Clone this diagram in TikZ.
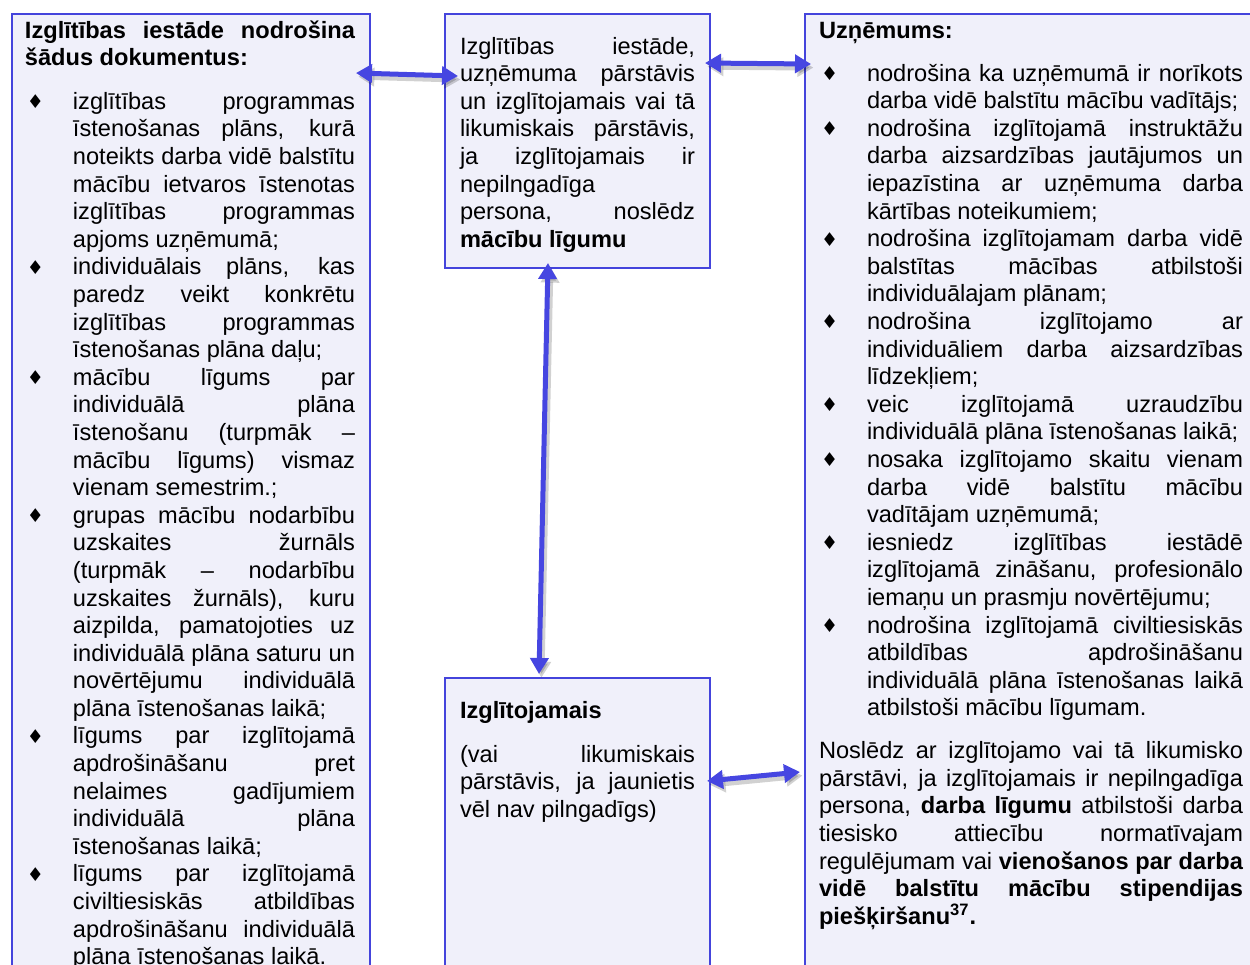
\documentclass[tikz,border=0pt]{standalone}
\usepackage{fontspec}
\setmainfont{Liberation Sans}
\newfontfamily\bulfont{DejaVu Sans}
\usetikzlibrary{arrows.meta,calc}
\definecolor{boxblue}{RGB}{68,68,220}
\definecolor{boxfill}{RGB}{240,240,250}
\definecolor{arrblue}{RGB}{70,70,225}
\newcommand\bitem[1]{\par\noindent\hangindent=24pt\hangafter=1\makebox[24pt][l]{\hspace{1pt}\raisebox{0.3pt}{\bulfont\fontsize{9.5pt}{10pt}\selectfont\char"2666}}#1}
\newcommand\txtsetup{\fontsize{11.8pt}{13.8pt}\selectfont\parindent=0pt\parskip=0pt\tolerance=10000\hbadness=10000\hyphenpenalty=10000}
\begin{document}
\begin{tikzpicture}[x=0.5pt,y=-0.5pt,
  panel/.style={draw=boxblue, fill=boxfill, line width=1pt, inner sep=0pt, outer sep=0pt, anchor=north west, rectangle},
  txt/.style={anchor=base west, inner sep=0pt, outer sep=0pt},
  arr/.style={line width=2.5pt, draw=arrblue, {Triangle[length=8pt,width=9pt]}-{Triangle[length=8pt,width=9pt]},
    preaction={draw=black, opacity=0.18, line width=3pt, transform canvas={shift={(1.2pt,-1.8pt)}}}}]
\useasboundingbox (0,0) rectangle (1250,965);
\clip (0,0) rectangle (1250,965);
\node[panel, minimum width=179pt, minimum height=493pt] (lbox) at (12,14) {};
\node[panel, minimum width=132.5pt, minimum height=127pt] (mtop) at (445,14) {};
\node[panel, minimum width=132.5pt, minimum height=161pt] (mbot) at (445,678) {};
\node[panel, minimum width=240pt, minimum height=493pt] (rbox) at (805,14) {};

\node[txt] (ltxt) at (25,38) {\parbox[t]{165pt}{\txtsetup
\textbf{Izglītības iestāde nodrošina\linebreak šādus dokumentus:}\par\vspace{8pt}
\bitem{izglītības programmas\linebreak īstenošanas plāns, kurā\linebreak noteikts darba vidē balstītu\linebreak mācību ietvaros īstenotas\linebreak izglītības programmas\linebreak apjoms uzņēmumā;}
\bitem{individuālais plāns, kas\linebreak paredz veikt konkrētu\linebreak izglītības programmas\linebreak īstenošanas plāna daļu;}
\bitem{mācību līgums par\linebreak individuālā plāna\linebreak īstenošanu (turpmāk –\linebreak mācību līgums) vismaz\linebreak vienam semestrim.;}
\bitem{grupas mācību nodarbību\linebreak uzskaites žurnāls\linebreak (turpmāk – nodarbību\linebreak uzskaites žurnāls), kuru\linebreak aizpilda, pamatojoties uz\linebreak individuālā plāna saturu un\linebreak novērtējumu individuālā\linebreak plāna īstenošanas laikā;}
\bitem{līgums par izglītojamā\linebreak apdrošināšanu pret\linebreak nelaimes gadījumiem\linebreak individuālā plāna\linebreak īstenošanas laikā;}
\bitem{līgums par izglītojamā\linebreak civiltiesiskās atbildības\linebreak apdrošināšanu individuālā\linebreak plāna īstenošanas laikā.}\par}};

\node[txt] (mttxt) at (460,54) {\parbox[t]{117.5pt}{\txtsetup
Izglītības iestāde,\linebreak uzņēmuma pārstāvis\linebreak un izglītojamais vai tā\linebreak likumiskais pārstāvis,\linebreak ja izglītojamais ir\linebreak nepilngadīga\newline persona, noslēdz\linebreak \textbf{mācību līgumu}\par}};

\node[txt] (mbtxt) at (460,718) {\parbox[t]{117.5pt}{\txtsetup
\textbf{Izglītojamais}\par\vspace{8.2pt}
(vai likumiskais\linebreak pārstāvis, ja jaunietis\linebreak vēl nav pilngadīgs)\par}};

\node[txt] (rtxt) at (819,38) {\parbox[t]{212pt}{\txtsetup
\textbf{Uzņēmums:}\par\vspace{7.7pt}
\bitem{nodrošina ka uzņēmumā ir norīkots\linebreak darba vidē balstītu mācību vadītājs;}
\bitem{nodrošina izglītojamā instruktāžu\linebreak darba aizsardzības jautājumos un\linebreak iepazīstina ar uzņēmuma darba\linebreak kārtības noteikumiem;}
\bitem{nodrošina izglītojamam darba vidē\linebreak balstītas mācības atbilstoši\linebreak individuālajam plānam;}
\bitem{nodrošina izglītojamo ar\linebreak individuāliem darba aizsardzības\linebreak līdzekļiem;}
\bitem{veic izglītojamā uzraudzību\linebreak individuālā plāna īstenošanas laikā;}
\bitem{nosaka izglītojamo skaitu vienam\linebreak darba vidē balstītu mācību\linebreak vadītājam uzņēmumā;}
\bitem{iesniedz izglītības iestādē\linebreak izglītojamā zināšanu, profesionālo\linebreak iemaņu un prasmju novērtējumu;}
\bitem{nodrošina izglītojamā civiltiesiskās\linebreak atbildības apdrošināšanu\linebreak individuālā plāna īstenošanas laikā\linebreak atbilstoši mācību līgumam.}\par\vspace{7.7pt}
Noslēdz ar izglītojamo vai tā likumisko\linebreak pārstāvi, ja izglītojamais ir nepilngadīga\linebreak persona, \textbf{darba līgumu} atbilstoši darba\linebreak tiesisko attiecību normatīvajam\linebreak regulējumam vai \textbf{vienošanos par darba\linebreak vidē balstītu mācību stipendijas\linebreak piešķiršanu\textsuperscript{37}.}\par}};

\draw[arr] ($(lbox.north east)+(-14,59)$) -- ($(mtop.north west)+(13,62)$);
\draw[arr] ($(mtop.north east)+(-5,49)$) -- ($(rbox.north west)+(6,50)$);
\draw[arr] ($(mtop.south west)+(103,-5)$) -- ($(mbot.north west)+(94,-4)$);
\draw[arr] ($(mbot.north east)+(-3,103)$) -- ($(rbox.north west)+(-5,758)$);
\end{tikzpicture}
\end{document}
